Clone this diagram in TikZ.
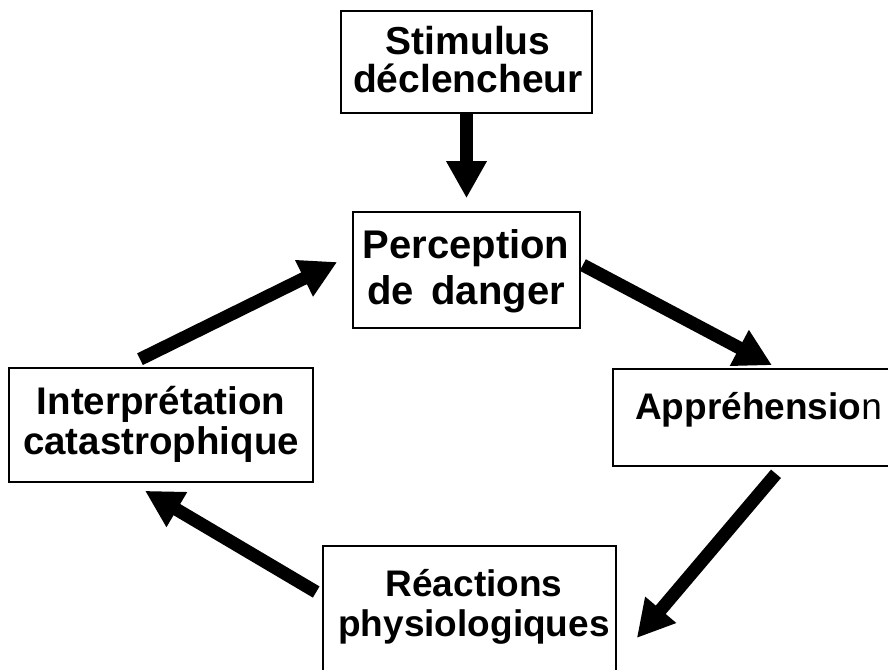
\documentclass[tikz,border=0pt]{standalone}
\usepackage{fontspec}
\setmainfont{Liberation Sans}
\usetikzlibrary{arrows.meta}
\begin{document}
\begin{tikzpicture}[x=1pt,y=-1pt,
  box/.style={draw, line width=1.6pt, inner sep=0pt},
  lbl/.style 2 args={align=center, inner sep=0pt, font=\bfseries\fontsize{#1}{#2}\selectfont},
  big/.style={line width=13pt, -{Triangle[width=38pt,length=37pt]}}]
\clip (0,0) rectangle (888,669);
\fill[white] (0,0) rectangle (888,669);
% boxes
\node[box, minimum width=251pt, minimum height=102pt] (stim) at (466.5,62) {};
\node[box, minimum width=227pt, minimum height=116pt] (perc) at (466.5,270) {};
\node[box, minimum width=304pt, minimum height=114pt] (interp) at (161,425) {};
\node[box, minimum width=287pt, minimum height=97pt] (appr) at (756.5,417.5) {};
\node[box, minimum width=293pt, minimum height=144pt] (reac) at (469.5,618) {};
% labels
\node[lbl={39}{38}] (stimt) at (468,60) {Stimulus\\déclencheur};
\node[lbl={40}{46}] (perct) at (466,271) {Perception\\de\, danger};
\node[lbl={38.5}{40}] (interpt) at (161,424) {Interprétation\\catastrophique};
\node[lbl={37}{40}] (react) at (474,607) {Réactions\\physiologiques};
\node[inner sep=0pt, anchor=base west, font=\fontsize{37}{37}\selectfont] (apprt) at (635,419) {{\bfseries Appréhensio}n};
% arrows
\draw[big, shorten >=13pt] (stim.south) -- (perc.north);
\draw[big] ([xshift=2pt,yshift=5pt]perc.east) -- ([xshift=15.5pt,yshift=3pt]appr.north);
\draw[big] ([xshift=19.5pt,yshift=-7pt]appr.south) -- ([xshift=20pt,yshift=-20pt]reac.east);
\draw[big] ([xshift=-6pt,yshift=26pt]reac.west) -- ([xshift=-16pt,yshift=-8pt]interp.south);
\draw[big] ([xshift=-21pt,yshift=8pt]interp.north) -- ([xshift=-15pt,yshift=8pt]perc.west);
\end{tikzpicture}
\end{document}
